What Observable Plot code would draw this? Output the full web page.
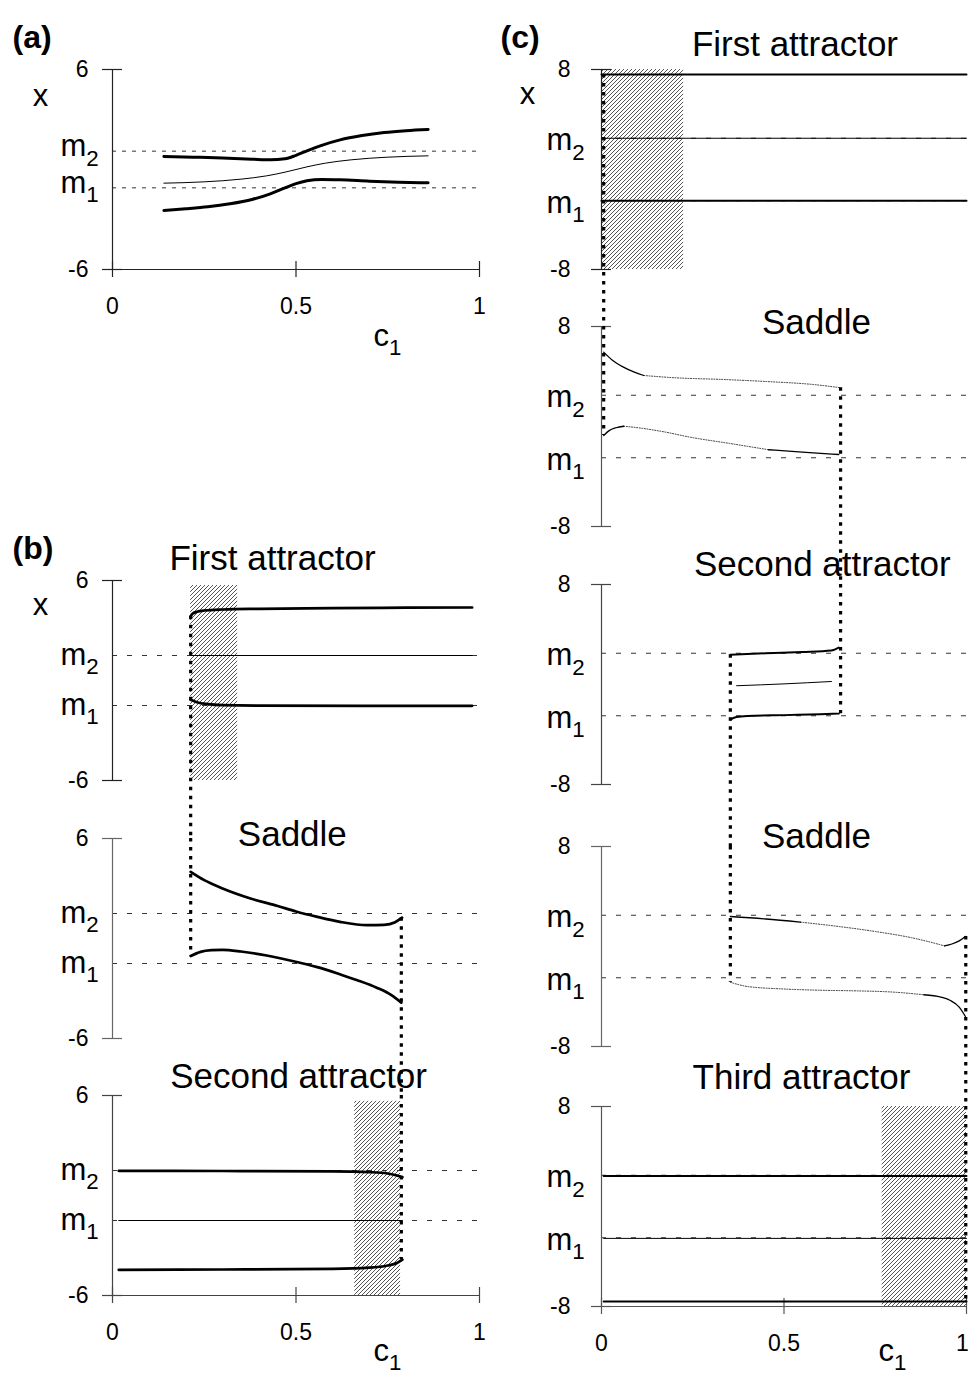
<!DOCTYPE html>
<html><head><meta charset="utf-8">
<script src="https://cdn.jsdelivr.net/npm/d3@7"></script>
<script src="https://cdn.jsdelivr.net/npm/@observablehq/plot@0.6"></script>
<style>
html,body{margin:0;padding:0;background:#fff;}
#fig{position:relative;width:968px;height:1379px;overflow:hidden;background:#fff;}
</style></head><body>
<svg width="0" height="0" style="position:absolute"><defs>
<pattern id="hatch" patternUnits="userSpaceOnUse" width="4" height="4">
<rect width="4" height="4" fill="#fff"/>
<path d="M-1,1 l2,-2 M0,4 l4,-4 M3,5 l2,-2" stroke="#555" stroke-width="1"/>
</pattern></defs></svg>
<div id="fig"></div>
<script>
// ---------- data ----------
const xTicks = [0, 0.5, 1];
const xTickLabels = ["0", "0.5", "1"];
const mNames = ["m_1", "m_2"];
const aM = [-1.1, 1.1];
const bM = [-1.5, 1.5];
const cM = [-2.5, 2.5];
const abYTicks = [6, -6];
const cYTicks = [8, -8];

// panel (a)
const aUpper = [[0.14,0.78],[0.22,0.74],[0.30,0.69],[0.38,0.62],[0.43,0.58],[0.47,0.64],[0.50,0.85],[0.53,1.12],[0.57,1.45],[0.62,1.78],[0.68,2.04],[0.74,2.22],[0.80,2.33],[0.86,2.40]];
const aMiddle = [[0.14,-0.82],[0.25,-0.74],[0.35,-0.58],[0.42,-0.38],[0.47,-0.16],[0.50,0],[0.53,0.16],[0.58,0.38],[0.65,0.58],[0.75,0.74],[0.86,0.82]];
const aLower = [[0.14,-2.46],[0.20,-2.36],[0.26,-2.24],[0.32,-2.06],[0.38,-1.8],[0.43,-1.46],[0.47,-1.1],[0.50,-0.85],[0.53,-0.68],[0.57,-0.60],[0.62,-0.62],[0.70,-0.7],[0.78,-0.76],[0.86,-0.8]];

// panel (b)
const b1Upper = [[0.213,3.85],[0.218,4.0],[0.23,4.12],[0.25,4.2],[0.3,4.26],[0.4,4.3],[0.6,4.34],[0.8,4.37],[0.98,4.38]];
const b1Middle = [[0.213,1.5],[0.98,1.5]];
const b1Lower = [[0.213,-1.15],[0.23,-1.3],[0.26,-1.42],[0.3,-1.48],[0.4,-1.51],[0.98,-1.52]];
const b1Hatch = [0.213, 0.341, -6, 5.7];
const b2Upper = [[0.213,4.0],[0.25,3.5],[0.3,3.0],[0.376,2.4],[0.45,1.95],[0.5,1.62],[0.558,1.3],[0.62,1.0],[0.694,0.8],[0.74,0.82],[0.77,0.98],[0.789,1.25]];
const b2Lower = [[0.213,-1.05],[0.24,-0.8],[0.27,-0.7],[0.3,-0.68],[0.35,-0.78],[0.42,-1.02],[0.49,-1.35],[0.558,-1.72],[0.62,-2.15],[0.667,-2.5],[0.72,-2.95],[0.76,-3.4],[0.787,-3.85]];
const b3Upper = [[0.017,1.48],[0.3,1.47],[0.6,1.45],[0.7,1.4],[0.75,1.32],[0.79,1.1]];
const b3Middle = [[0.017,-1.5],[0.79,-1.5]];
const b3Lower = [[0.017,-4.46],[0.3,-4.44],[0.6,-4.4],[0.7,-4.33],[0.75,-4.2],[0.775,-4.05],[0.79,-3.85]];
const b3Hatch = [0.66, 0.785, -6, 5.65];
const bLinks = [{c: 0.213, from: 3.85, to: -1.05}, {c: 0.787, from: 1.25, to: -3.85}];

// panel (c)
const c1Upper = [[0,7.6],[1,7.6]];
const c1Middle = [[0,2.5],[1,2.5]];
const c1Lower = [[0,-2.5],[1,-2.5]];
const c1Hatch = [0, 0.225, -8, 8];
const c2UpperSolid = [[0.006,5.95],[0.03,5.3],[0.06,4.75],[0.09,4.35],[0.116,4.08]];
const c2UpperDotted = [[0.116,4.08],[0.2,3.9],[0.335,3.76],[0.45,3.6],[0.58,3.36],[0.655,3.1]];
const c2LowerSolidA = [[0.006,-0.72],[0.02,-0.35],[0.04,-0.1],[0.061,0.02]];
const c2LowerDotted = [[0.061,0.02],[0.1,-0.1],[0.17,-0.42],[0.244,-0.86],[0.35,-1.35],[0.458,-1.86]];
const c2LowerSolidB = [[0.458,-1.86],[0.55,-2.05],[0.65,-2.24]];
const c3Upper = [[0.353,2.38],[0.45,2.5],[0.55,2.6],[0.63,2.72],[0.65,2.95]];
const c3Middle = [[0.37,-0.1],[0.5,0.05],[0.63,0.24]];
const c3Lower = [[0.353,-2.8],[0.37,-2.6],[0.4,-2.52],[0.5,-2.45],[0.6,-2.38],[0.65,-2.33]];
const c4UpperSolidA = [[0.353,2.4],[0.45,2.2],[0.545,1.95]];
const c4UpperDotted = [[0.545,1.95],[0.65,1.6],[0.75,1.2],[0.85,0.7],[0.94,0.05]];
const c4UpperSolidB = [[0.94,0.05],[0.96,0.2],[0.98,0.45],[0.997,0.8]];
const c4LowerDotted = [[0.353,-2.86],[0.4,-3.2],[0.5,-3.4],[0.6,-3.5],[0.7,-3.55],[0.8,-3.65],[0.883,-3.86]];
const c4LowerSolid = [[0.883,-3.86],[0.93,-4.05],[0.956,-4.32],[0.98,-4.85],[0.997,-5.6]];
const c5Upper = [[0.006,2.45],[1,2.45]];
const c5Middle = [[0.006,-2.55],[1,-2.55]];
const c5Lower = [[0.006,-7.6],[1,-7.6]];
const c5Hatch = [0.769, 1.0, -8, 8];
const cLinks = [{c: 0.006, from: 7.6, to: -0.72}, {c: 0.655, from: 3.1, to: -2.33}, {c: 0.353, from: 2.38, to: -2.86}, {c: 0.998, from: 0.8, to: -7.6}];

// ---------- layout ----------
const FONT = "'Liberation Sans', Arial, Helvetica, sans-serif";
const PANEL_H = 200, MT = 70, MB = 90;
const colAB = {axisX: 112, plotW: 367, left: 0, marginRight: 10, yMax: 6, yTicks: abYTicks, tickDx: -24, mDx: -52, mDy: 9, xLabDx: -72, cDx: 261, thickW: 2.7, dash: "4,6", mLevels: bM, labelDx: -100, lastTickDx: 0};
const colC = {axisX: 601, plotW: 365, left: 490, marginRight: 2, yMax: 8, yTicks: cYTicks, tickDx: -31, mDx: -55, mDy: 12, xLabDx: -74, cDx: 277, thickW: 2.0, dash: "5,10", mLevels: cM, labelDx: -101, lastTickDx: -4};

const panels = [
  {col: colAB, top: 69, mLevels: aM, mDy: 5, dash: "4,6", thick: [aUpper, aLower], thin: [aMiddle], xAxis: true, cDy: 76, label: "(a)", labelDy: -22, xLab: true, xLabDy: 36, axisColor: "#222", thickW: 3},
  {col: colAB, top: 580, title: "First attractor", titleX: 0.436, titleDy: -11, hatch: b1Hatch, thick: [b1Upper, b1Lower], thin: [b1Middle], linkOut: bLinks[0], gapOut: 58, label: "(b)", labelDy: -22, xLab: true, xLabDy: 34, axisColor: "#222", dash: "5,10"},
  {col: colAB, top: 838, title: "Saddle", titleX: 0.49, titleDy: 7, thick: [b2Upper, b2Lower], linkIn: bLinks[0], linkOut: bLinks[1], gapOut: 57, axisColor: "#666", dash: "5,10"},
  {col: colAB, top: 1095, title: "Second attractor", titleX: 0.507, titleDy: -8, hatch: b3Hatch, thick: [b3Upper, b3Lower], thin: [b3Middle], linkIn: bLinks[1], xAxis: true, cDy: 65, axisColor: "#444", dash: "5,10"},
  {col: colC, top: 69, title: "First attractor", titleX: 0.53, titleDy: -14, hatch: c1Hatch, thick: [c1Upper, c1Lower], thin: [c1Middle], linkOut: cLinks[0], gapOut: 57, label: "(c)", labelDy: -22, xLab: true, xLabDy: 34, axisColor: "#222"},
  {col: colC, top: 326, title: "Saddle", titleX: 0.589, titleDy: 7, thin: [c2UpperSolid, c2LowerSolidA, c2LowerSolidB], dotted: [c2UpperDotted, c2LowerDotted], linkIn: cLinks[0], linkOut: cLinks[1], gapOut: 58, axisColor: "#555", thinW: 1.3},
  {col: colC, top: 584, title: "Second attractor", titleX: 0.605, titleDy: -9, thick: [c3Upper, c3Lower], thin: [c3Middle], linkIn: cLinks[1], linkOut: cLinks[2], gapOut: 62, axisColor: "#444"},
  {col: colC, top: 846, title: "Saddle", titleX: 0.589, titleDy: 1, thin: [c4UpperSolidA, c4UpperSolidB, c4LowerSolid], dotted: [c4UpperDotted, c4LowerDotted], linkIn: cLinks[2], linkOut: cLinks[3], gapOut: 60, axisColor: "#666", thinW: 1.3},
  {col: colC, top: 1106, title: "Third attractor", titleX: 0.548, titleDy: -18, hatch: c5Hatch, thick: [c5Upper, c5Lower], thin: [c5Middle], linkIn: cLinks[3], xAxis: true, cDy: 54, axisColor: "#555"}
];

function fixSubscripts(svg) {
  const ns = "http://www.w3.org/2000/svg";
  svg.querySelectorAll("text").forEach(t => {
    const m = /^(.*)_(\d)$/.exec(t.textContent);
    if (!m) return;
    t.textContent = "";
    const a = document.createElementNS(ns, "tspan"); a.textContent = m[1];
    const b = document.createElementNS(ns, "tspan"); b.textContent = m[2];
    b.setAttribute("font-size", "72%"); b.setAttribute("dy", "0.42em");
    t.append(a, b);
  });
}

const fig = document.getElementById("fig");
const linkStyle = {stroke: "#000", strokeWidth: 3.2, strokeDasharray: "3.5,5.5"};

for (const p of panels) {
  const col = p.col;
  const yMax = col.yMax, yMin = -yMax;
  const mLevels = p.mLevels || col.mLevels;
  const marks = [];
  if (p.hatch) marks.push(Plot.rect([p.hatch], {x1: d => d[0], x2: d => d[1], y1: d => d[2], y2: d => d[3], fill: "url(#hatch)"}));
  marks.push(Plot.ruleY(mLevels, {y: d => d, x1: 0, x2: 1, stroke: "#333", strokeWidth: 1, strokeDasharray: p.dash || col.dash}));
  // vertical axis
  marks.push(Plot.ruleX([0], {y1: yMin, y2: yMax, stroke: p.axisColor, strokeWidth: 1.2}));
  marks.push(Plot.ruleY(col.yTicks, {y: d => d, x1: 0, x2: 0, insetLeft: -10, insetRight: -10, stroke: p.axisColor, strokeWidth: 1.2}));
  marks.push(Plot.text(col.yTicks, {x: 0, y: d => d, text: d => String(d), dx: col.tickDx, textAnchor: "end", fontSize: 23, fontFamily: FONT}));
  marks.push(Plot.text(mLevels, {x: 0, y: d => d, text: (d, i) => mNames[i], dx: col.mDx, dy: p.mDy ?? col.mDy, textAnchor: "start", lineAnchor: "bottom", fontSize: 31, fontFamily: FONT}));
  // x axis
  if (p.xAxis) {
    const last = xTicks.length - 1;
    marks.push(Plot.ruleY([yMin], {y: d => d, x1: 0, x2: 1, stroke: p.axisColor, strokeWidth: 1.2}));
    marks.push(Plot.ruleX(xTicks, {x: d => d, y1: yMin, y2: yMin, insetTop: -8, insetBottom: -8, stroke: p.axisColor, strokeWidth: 1.2}));
    marks.push(Plot.text(xTicks.slice(0, last), {x: d => d, y: yMin, text: (d, i) => xTickLabels[i], dy: 44, lineAnchor: "bottom", textAnchor: "middle", fontSize: 23, fontFamily: FONT}));
    marks.push(Plot.text(xTicks.slice(last), {x: d => d, y: yMin, text: () => xTickLabels[last], dx: col.lastTickDx, dy: 44, lineAnchor: "bottom", textAnchor: "middle", fontSize: 23, fontFamily: FONT}));
    marks.push(Plot.text(["c_1"], {frameAnchor: "bottom-left", dx: col.cDx, dy: p.cDy, lineAnchor: "bottom", textAnchor: "start", fontSize: 31, fontFamily: FONT}));
  }
  // curves
  for (const s of (p.dotted || [])) marks.push(Plot.line(s, {x: d => d[0], y: d => d[1], curve: "monotone-x", stroke: "#333", strokeWidth: 1, strokeDasharray: "1,1.6"}));
  for (const s of (p.thin || [])) marks.push(Plot.line(s, {x: d => d[0], y: d => d[1], curve: "monotone-x", stroke: "#000", strokeWidth: p.thinW || 1}));
  for (const s of (p.thick || [])) marks.push(Plot.line(s, {x: d => d[0], y: d => d[1], curve: "monotone-x", stroke: "#000", strokeWidth: p.thickW || col.thickW}));
  // bifurcation connectors
  if (p.linkOut) marks.push(Plot.ruleX([p.linkOut], {x: "c", y1: "from", y2: yMin, insetBottom: -p.gapOut, ...linkStyle}));
  if (p.linkIn) marks.push(Plot.ruleX([p.linkIn], {x: "c", y1: yMax, y2: "to", ...linkStyle}));
  // texts
  if (p.title) marks.push(Plot.text([{t: p.title, c: p.titleX}], {x: "c", text: "t", frameAnchor: "top", dy: p.titleDy, lineAnchor: "bottom", textAnchor: "middle", fontSize: 35, fontFamily: FONT}));
  if (p.label) marks.push(Plot.text([p.label], {frameAnchor: "top-left", dx: col.labelDx, dy: p.labelDy, lineAnchor: "bottom", textAnchor: "start", fontSize: 32, fontWeight: "bold", fontFamily: FONT}));
  if (p.xLab) marks.push(Plot.text(["x"], {frameAnchor: "top-left", dx: col.xLabDx, dy: p.xLabDy, lineAnchor: "bottom", textAnchor: "middle", fontSize: 31, fontFamily: FONT}));

  const marginLeft = col.axisX - col.left;
  const svg = Plot.plot({
    width: marginLeft + col.plotW + col.marginRight,
    height: MT + PANEL_H + MB,
    marginLeft, marginRight: col.marginRight, marginTop: MT, marginBottom: MB,
    x: {domain: [0, 1], axis: null},
    y: {domain: [yMin, yMax], axis: null},
    style: {background: "transparent", overflow: "visible", fontFamily: FONT, position: "absolute", left: col.left + "px", top: (p.top - MT) + "px", maxWidth: "none"},
    marks
  });
  fixSubscripts(svg);
  fig.appendChild(svg);
}
</script>
</body></html>
